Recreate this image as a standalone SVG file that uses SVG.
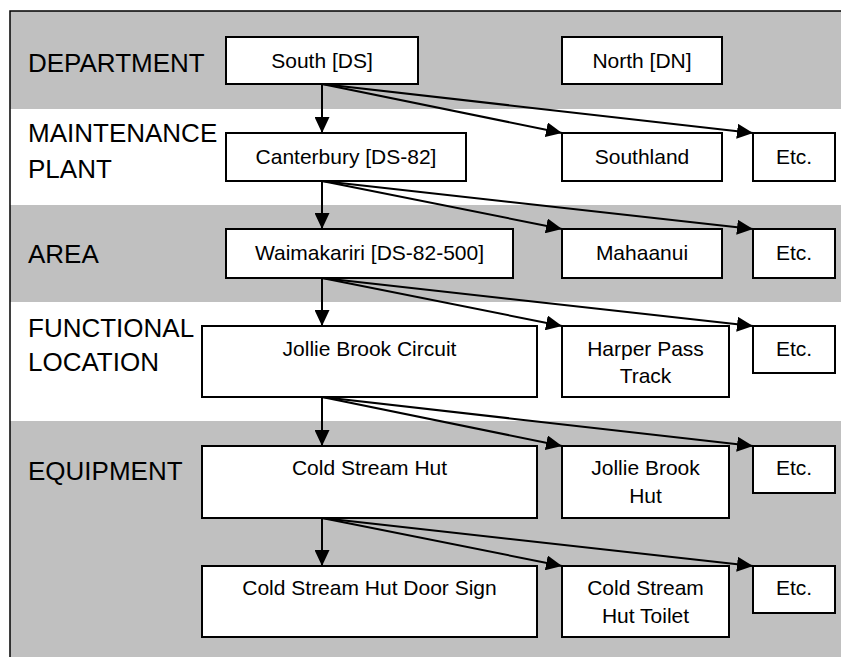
<svg xmlns="http://www.w3.org/2000/svg" width="841" height="657" viewBox="0 0 841 657">
<style>
.band{fill:#c0c0c0;stroke:none}
.lbl{font-family:"Liberation Sans",Arial,sans-serif;font-size:26px;fill:#000}
.box{fill:#fff;stroke:#000;stroke-width:2}
.t{font-family:"Liberation Sans",Arial,sans-serif;font-size:21px;fill:#000;text-anchor:middle}
.c{stroke:#000;stroke-width:2;fill:none;marker-end:url(#ah)}
</style>
<defs>
<marker id="ah" markerUnits="userSpaceOnUse" markerWidth="16" markerHeight="15" refX="16" refY="7.5" orient="auto">
<path d="M0,0 L16,7.5 L0,15 Z" fill="#000"/>
</marker>
</defs>
<rect width="841" height="657" fill="#fff"/>
<g id="bands">
<rect class="band" x="10" y="11" width="831" height="98"/>
<rect class="band" x="10" y="205" width="831" height="97"/>
<rect class="band" x="10" y="421" width="831" height="236"/>
<path d="M10,657 L10,11 L841,11" fill="none" stroke="#000" stroke-width="1.5"/>
</g>
<g id="labels">
<text class="lbl" x="28" y="72">DEPARTMENT</text>
<text class="lbl" x="28" y="142">MAINTENANCE</text>
<text class="lbl" x="28" y="178">PLANT</text>
<text class="lbl" x="28" y="263">AREA</text>
<text class="lbl" x="28" y="337">FUNCTIONAL</text>
<text class="lbl" x="28" y="371">LOCATION</text>
<text class="lbl" x="28" y="480">EQUIPMENT</text>
</g>
<g id="connectors">
<line class="c" x1="322" y1="84" x2="322" y2="133"/>
<line class="c" x1="322" y1="84" x2="562" y2="133"/>
<line class="c" x1="322" y1="84" x2="753" y2="133"/>
<line class="c" x1="322" y1="181" x2="322" y2="229"/>
<line class="c" x1="322" y1="181" x2="562" y2="229"/>
<line class="c" x1="322" y1="181" x2="753" y2="229"/>
<line class="c" x1="322" y1="278" x2="322" y2="326"/>
<line class="c" x1="322" y1="278" x2="562" y2="326"/>
<line class="c" x1="322" y1="278" x2="753" y2="326"/>
<line class="c" x1="322" y1="397" x2="322" y2="446"/>
<line class="c" x1="322" y1="397" x2="562" y2="446"/>
<line class="c" x1="322" y1="397" x2="753" y2="446"/>
<line class="c" x1="322" y1="518" x2="322" y2="566"/>
<line class="c" x1="322" y1="518" x2="562" y2="566"/>
<line class="c" x1="322" y1="518" x2="753" y2="566"/>
</g>
<g id="n-south"><rect class="box" x="226" y="37" width="192" height="47"/><text class="t" x="322" y="68">South [DS]</text></g>
<g id="n-north"><rect class="box" x="562" y="37" width="160" height="47"/><text class="t" x="642" y="68">North [DN]</text></g>
<g id="n-canterbury"><rect class="box" x="226" y="133" width="240" height="48"/><text class="t" x="346" y="164">Canterbury [DS-82]</text></g>
<g id="n-southland"><rect class="box" x="562" y="133" width="160" height="48"/><text class="t" x="642" y="164">Southland</text></g>
<g id="n-etc1"><rect class="box" x="753" y="133" width="82" height="48"/><text class="t" x="794" y="164">Etc.</text></g>
<g id="n-waimakariri"><rect class="box" x="226" y="229" width="287" height="49"/><text class="t" x="369.5" y="260">Waimakariri [DS-82-500]</text></g>
<g id="n-mahaanui"><rect class="box" x="562" y="229" width="160" height="49"/><text class="t" x="642" y="260">Mahaanui</text></g>
<g id="n-etc2"><rect class="box" x="753" y="229" width="82" height="49"/><text class="t" x="794" y="260">Etc.</text></g>
<g id="n-jolliecircuit"><rect class="box" x="202" y="326" width="335" height="71"/><text class="t" x="369.5" y="356">Jollie Brook Circuit</text></g>
<g id="n-harper"><rect class="box" x="562" y="326" width="167" height="71"/><text class="t" x="645.5" y="356">Harper Pass</text><text class="t" x="645.5" y="383">Track</text></g>
<g id="n-etc3"><rect class="box" x="753" y="326" width="82" height="47"/><text class="t" x="794" y="356">Etc.</text></g>
<g id="n-coldhut"><rect class="box" x="202" y="446" width="335" height="72"/><text class="t" x="369.5" y="475">Cold Stream Hut</text></g>
<g id="n-jolliehut"><rect class="box" x="562" y="446" width="167" height="72"/><text class="t" x="645.5" y="475">Jollie Brook</text><text class="t" x="645.5" y="503">Hut</text></g>
<g id="n-etc4"><rect class="box" x="753" y="446" width="82" height="47"/><text class="t" x="794" y="475">Etc.</text></g>
<g id="n-doorsign"><rect class="box" x="202" y="566" width="335" height="71"/><text class="t" x="369.5" y="595">Cold Stream Hut Door Sign</text></g>
<g id="n-toilet"><rect class="box" x="562" y="566" width="167" height="71"/><text class="t" x="645.5" y="595">Cold Stream</text><text class="t" x="645.5" y="623">Hut Toilet</text></g>
<g id="n-etc5"><rect class="box" x="753" y="566" width="82" height="47"/><text class="t" x="794" y="595">Etc.</text></g>
</svg>
